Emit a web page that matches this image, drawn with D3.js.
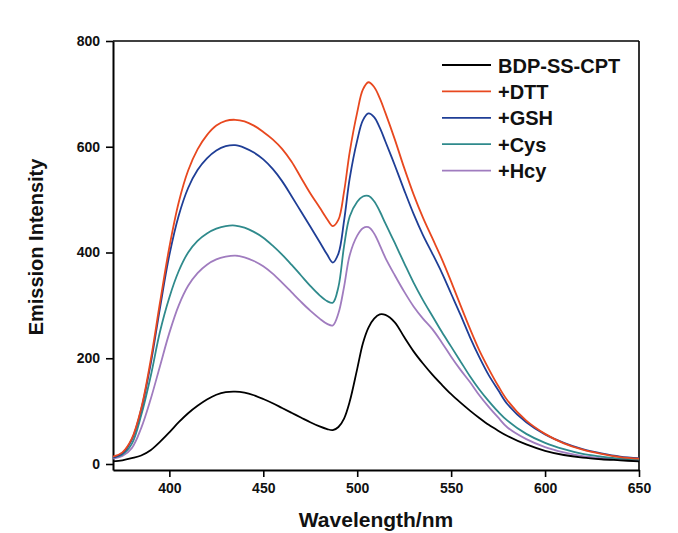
<!DOCTYPE html>
<html>
<head>
<meta charset="utf-8">
<script src="https://cdn.jsdelivr.net/npm/d3@7"></script>
<style>
  body { margin: 0; background: #fff; }
  svg { font-family: "Liberation Sans", Arial, sans-serif; }
</style>
</head>
<body>
<div id="chart"></div>
<script>
// wavelength grid (nm)
const wavelengths = [370,375,380,385,390,395,400,405,410,415,420,425,430,435,440,445,450,455,460,465,470,475,480,484,487,490,493,496,500,503,506,509,512,515,520,525,530,535,540,545,550,555,560,565,570,575,580,590,600,610,620,630,640,650];

// emission intensity
const bdp = [5,7,11,16,26,42,60,79,96,110,122,131,136,137,135,130,123,115,106,97,88,79,71,66,64,70,86,118,180,228,258,275,283,282,268,240,213,190,169,150,132,116,101,87,74,63,53,37,25,17,12,9,7,5];
const dtt = [14,22,48,105,195,305,410,495,555,595,622,640,649,651,648,640,628,614,596,572,542,512,485,463,450,462,515,590,665,708,722,713,692,664,614,560,510,466,427,388,345,300,256,215,180,148,120,82,57,39,27,19,13,10];
const gsh = [12,20,46,103,188,295,395,470,522,556,578,593,601,603,598,589,576,558,535,507,478,449,420,396,381,398,460,540,612,650,663,656,636,610,565,518,473,433,398,362,322,282,240,202,168,140,113,79,56,40,28,20,14,11];
const cys = [12,18,38,92,165,250,315,365,400,422,436,445,450,451,447,439,428,413,396,377,357,337,319,308,305,335,412,468,496,506,507,497,478,455,418,380,343,310,280,250,222,194,166,141,119,99,82,57,40,28,19,14,10,8];
const hcy = [10,15,30,68,122,185,248,300,337,361,377,387,392,394,391,384,374,360,343,325,307,290,275,265,262,285,335,395,432,446,448,436,414,390,357,326,298,275,255,230,203,178,155,130,108,88,69,47,32,22,15,11,8,6];

const seriesNames = ["BDP-SS-CPT", "+DTT", "+GSH", "+Cys", "+Hcy"];
const seriesValues = [bdp, dtt, gsh, cys, hcy];
const seriesColors = ["#000000", "#e8481f", "#1f3e96", "#2f8a8c", "#a07cbf"];

const xTicks = [400, 450, 500, 550, 600, 650];
const yTicks = [0, 200, 400, 600, 800];

const W = 678, H = 533;
const margin = {top: 41, right: 39, bottom: 63, left: 113};
const width = W - margin.left - margin.right,
  height = H - margin.top - margin.bottom;

const svg = d3.select("#chart").append("svg")
  .attr("width", W)
  .attr("height", H);

const g = svg.append("g")
  .attr("transform", "translate(" + margin.left + "," + margin.top + ")");

const x = d3.scaleLinear()
  .domain([370, 650])
  .range([0, width]);

const y = d3.scaleLinear()
  .domain([-11.35, 800])
  .range([height, 0]);

// frame top / right
g.append("line")
  .attr("x1", 0).attr("x2", width).attr("y1", 0).attr("y2", 0)
  .attr("stroke", "#000").attr("stroke-width", 1.6);
g.append("line")
  .attr("x1", width).attr("x2", width).attr("y1", 0).attr("y2", height)
  .attr("stroke", "#000").attr("stroke-width", 1.6);

const xAxis = g.append("g")
  .attr("transform", "translate(0," + height + ")")
  .call(d3.axisBottom(x).tickValues(xTicks).tickSize(7).tickPadding(6).tickSizeOuter(0));

const yAxis = g.append("g")
  .call(d3.axisLeft(y).tickValues(yTicks).tickSize(7).tickPadding(6).tickSizeOuter(0));

[xAxis, yAxis].forEach(a => {
  a.select(".domain").attr("stroke-width", 2);
  a.selectAll(".tick line").attr("stroke-width", 1.6);
  a.selectAll("text")
    .style("font-size", "14px")
    .style("font-weight", "bold")
    .style("font-family", "'Liberation Sans', Arial, sans-serif")
    .attr("fill", "#111");
});

const line = d3.line()
  .x((d, i) => x(wavelengths[i]))
  .y(d => y(d))
  .curve(d3.curveCatmullRom.alpha(0.5));

// purple first, black last
const order = [4, 3, 2, 1, 0];
order.forEach(k => {
  g.append("path")
    .datum(seriesValues[k])
    .attr("fill", "none")
    .attr("stroke", seriesColors[k])
    .attr("stroke-width", 1.8)
    .attr("stroke-linejoin", "round")
    .attr("d", line);
});

// legend
const legend = g.append("g")
  .attr("transform", "translate(" + (442 - margin.left) + "," + (65 - margin.top) + ")");

seriesNames.forEach((name, i) => {
  const row = legend.append("g").attr("transform", "translate(0," + (i * 26.4) + ")");
  row.append("line")
    .attr("x1", 0).attr("x2", 49)
    .attr("y1", 0).attr("y2", 0)
    .attr("stroke", seriesColors[i])
    .attr("stroke-width", 1.8);
  row.append("text")
    .attr("x", 56)
    .attr("y", 7.5)
    .style("font-size", "20px")
    .style("font-weight", "bold")
    .attr("fill", "#111")
    .text(name);
});

// axis titles
svg.append("text")
  .attr("x", 376)
  .attr("y", 527)
  .attr("text-anchor", "middle")
  .style("font-size", "21px")
  .style("font-weight", "bold")
  .attr("fill", "#111")
  .text("Wavelength/nm");

svg.append("text")
  .attr("transform", "translate(43,247) rotate(-90)")
  .attr("text-anchor", "middle")
  .style("font-size", "20px")
  .style("font-weight", "bold")
  .attr("fill", "#111")
  .text("Emission Intensity");
</script>
</body>
</html>
